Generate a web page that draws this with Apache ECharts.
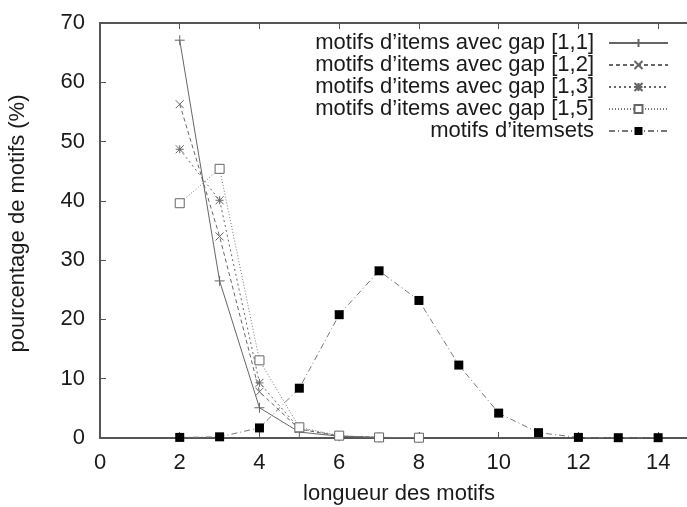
<!DOCTYPE html>
<html>
<head>
<meta charset="utf-8">
<script src="https://cdn.jsdelivr.net/npm/echarts@6/dist/echarts.min.js"></script>
<style>
  html, body { margin: 0; padding: 0; background: #fff; }
  #chart { width: 687px; height: 507px; }
</style>
</head>
<body>
<div id="chart"></div>
<script>
  // longueurs des motifs (axe x)
  const gapLengths = [2, 3, 4, 5, 6, 7, 8]
  const itemsetLengths = [2, 3, 4, 5, 6, 7, 8, 9, 10, 11, 12, 13, 14]

  // pourcentages
  const gap11 = [67.1, 26.5, 5.1, 1.0, 0.3, 0.1, 0.05]
  const gap12 = [56.3, 34.0, 7.8, 1.5, 0.3, 0.1, 0.05]
  const gap13 = [48.7, 40.1, 9.3, 1.6, 0.35, 0.1, 0.05]
  const gap15 = [39.6, 45.4, 13.1, 1.8, 0.4, 0.1, 0.05]
  const itemsets = [0.1, 0.2, 1.7, 8.4, 20.8, 28.2, 23.2, 12.3, 4.2, 0.9, 0.1, 0.05, 0.05]

  const seriesNames = [
    'motifs d\u2019items avec gap [1,1]',
    'motifs d\u2019items avec gap [1,2]',
    'motifs d\u2019items avec gap [1,3]',
    'motifs d\u2019items avec gap [1,5]',
    'motifs d\u2019itemsets'
  ]

  const font = 'Liberation Sans, Arial, sans-serif'
  const axisColor = '#555'
  const textColor = '#1a1a1a'

  const plus = 'path://M0,5L10,5M5,0L5,10'
  const cross = 'path://M0,0L10,10M10,0L0,10'
  const star = 'path://M0,0L10,10M10,0L0,10M5,0L5,10M0,5L10,5'

  function pairs(xs, ys) {
    return xs.map((x, i) => [x, ys[i]])
  }

  function strokeSeries(name, data, symbol, size, dash, color) {
    return {
      name: name,
      type: 'line',
      data: data,
      symbol: symbol,
      symbolSize: size,
      lineStyle: { color: color, width: 1, type: dash },
      itemStyle: { color: color, borderColor: color, borderWidth: 1 }
    }
  }

  const chart = echarts.init(document.getElementById('chart'))

  const option = {
    backgroundColor: '#fff',
    animation: false,
    textStyle: { fontFamily: font },
    grid: { left: 100, top: 23, right: -11, bottom: 69, outerBoundsMode: 'none' },
    legend: {
      orient: 'vertical',
      right: 13,
      top: 27,
      align: 'right',
      itemWidth: 59,
      itemHeight: 10,
      itemGap: 0,
      textStyle: { fontSize: 22, color: textColor, lineHeight: 22, padding: [0, 10, 0, 0], fontFamily: font },
      data: seriesNames
    },
    xAxis: [
      {
        type: 'value',
        min: 0,
        max: 15,
        interval: 2,
        name: 'longueur des motifs',
        nameLocation: 'middle',
        nameGap: 45,
        nameTextStyle: { fontSize: 22, color: textColor },
        axisLine: { lineStyle: { color: axisColor, width: 2 } },
        axisTick: { inside: true, length: 6, lineStyle: { color: axisColor } },
        axisLabel: { fontSize: 22, color: textColor, margin: 14, showMaxLabel: false },
        splitLine: { show: false }
      },
      {
        type: 'value',
        position: 'top',
        min: 0,
        max: 15,
        interval: 2,
        axisLine: { show: true, lineStyle: { color: axisColor, width: 2 } },
        axisTick: { show: true, inside: true, length: 6, lineStyle: { color: axisColor } },
        axisLabel: { show: false },
        splitLine: { show: false }
      }
    ],
    yAxis: {
      type: 'value',
      min: 0,
      max: 70,
      interval: 10,
      name: 'pourcentage de motifs (%)',
      nameLocation: 'middle',
      nameGap: 71,
      nameTextStyle: { fontSize: 22, color: textColor, padding: [0, 0, 0, 14] },
      axisLine: { show: true, lineStyle: { color: axisColor, width: 2 } },
      axisTick: { show: true, inside: true, length: 6, lineStyle: { color: axisColor } },
      axisLabel: { fontSize: 22, color: textColor, margin: 15 },
      splitLine: { show: false }
    },
    series: [
      strokeSeries(seriesNames[0], pairs(gapLengths, gap11), plus, 10, 'solid', '#666'),
      strokeSeries(seriesNames[1], pairs(gapLengths, gap12), cross, 8, [4, 3], '#666'),
      strokeSeries(seriesNames[2], pairs(gapLengths, gap13), star, 8, [2, 3], '#666'),
      {
        name: seriesNames[3],
        type: 'line',
        data: pairs(gapLengths, gap15),
        symbol: 'rect',
        symbolSize: 9,
        lineStyle: { color: '#777', width: 1, type: [1, 2] },
        itemStyle: { color: '#fff', borderColor: '#666', borderWidth: 1 }
      },
      {
        name: seriesNames[4],
        type: 'line',
        data: pairs(itemsetLengths, itemsets),
        symbol: 'rect',
        symbolSize: 9,
        lineStyle: { color: '#777', width: 1, type: [6, 3, 1, 3] },
        itemStyle: { color: '#000', borderColor: '#000', borderWidth: 0 }
      }
    ]
  }

  chart.setOption(option)
</script>
</body>
</html>
